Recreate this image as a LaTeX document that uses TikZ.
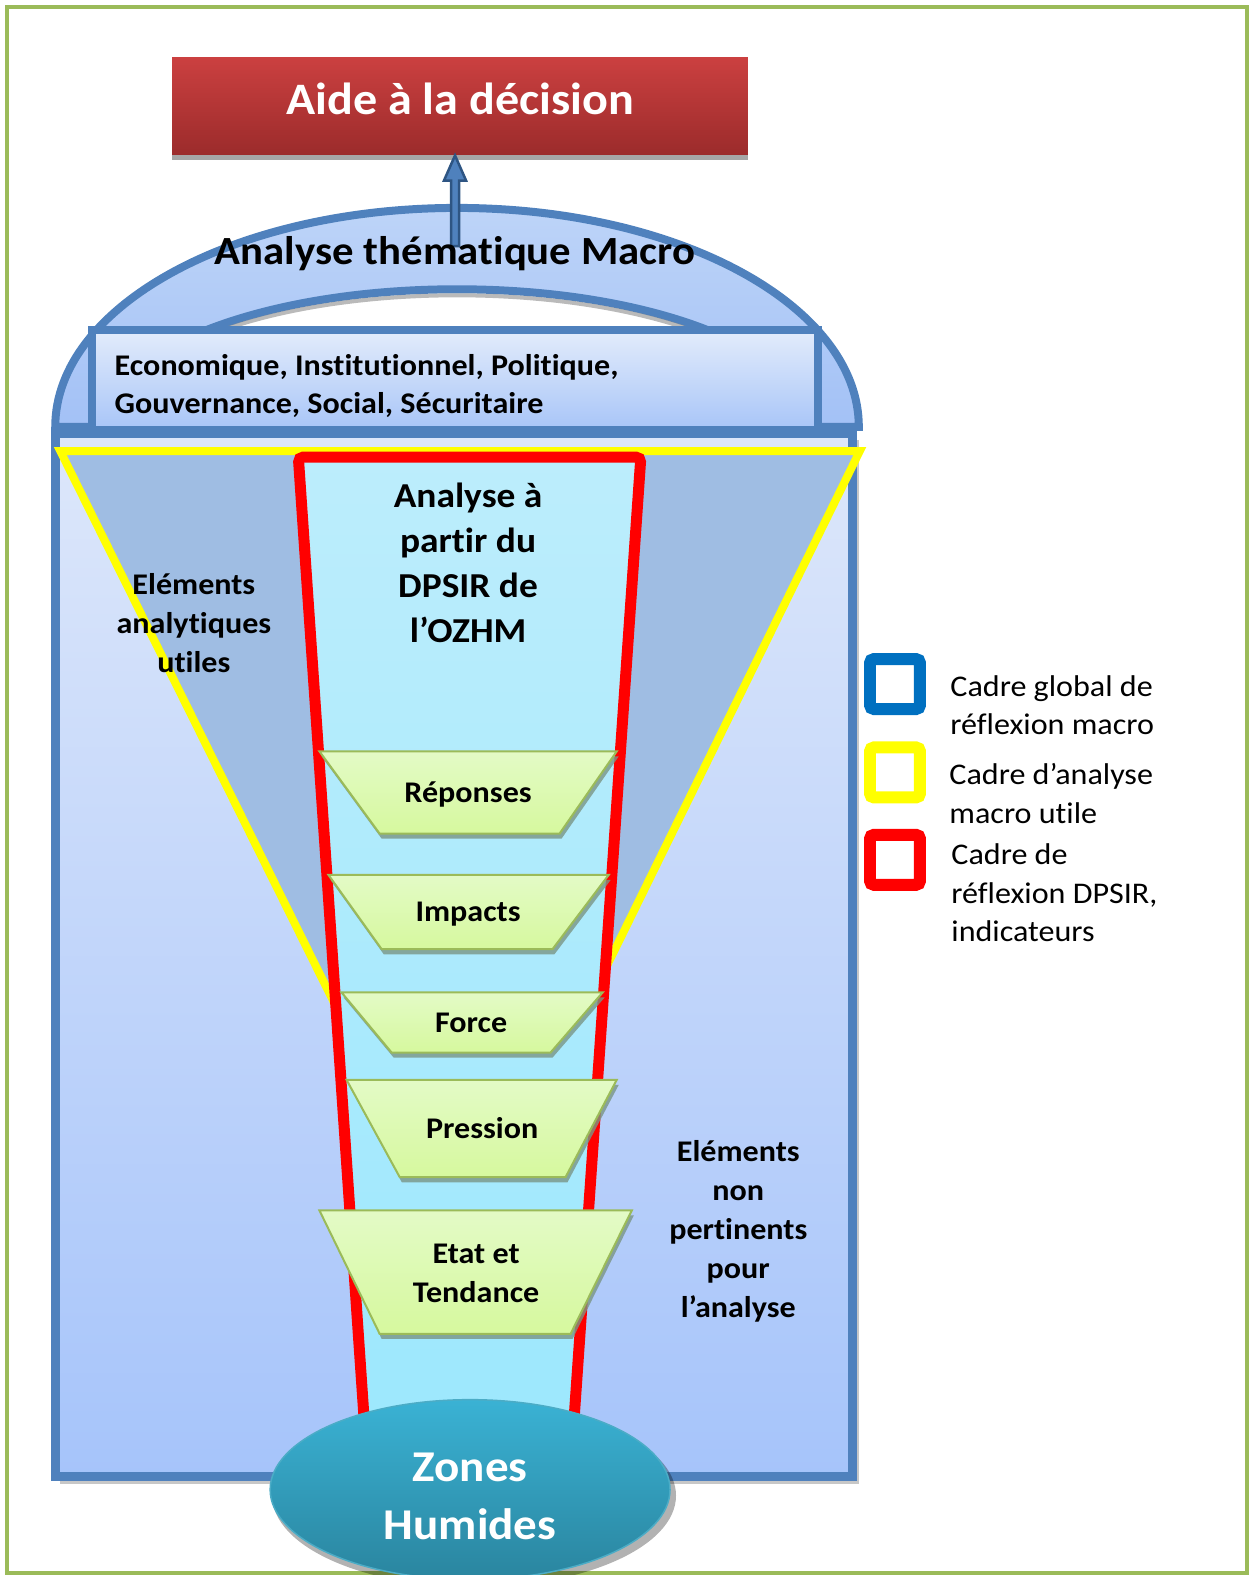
\documentclass[tikz,border=0pt]{standalone}
\usepackage{fontspec}
\setmainfont{Carlito}[FakeStretch=1.07, Ligatures=NoCommon]
\usetikzlibrary{calc,shapes.geometric}

\definecolor{framegreen}{HTML}{9BBB59}
\definecolor{accent}{HTML}{4F81BD}
\definecolor{arrowedge}{HTML}{2E5583}
\definecolor{legendblue}{HTML}{0070C0}
\definecolor{yellowc}{HTML}{FFFF00}
\definecolor{redc}{HTML}{FF0000}
\definecolor{aidetop}{HTML}{CB4040}
\definecolor{aidebot}{HTML}{9B2B2B}
\definecolor{bigtop}{HTML}{DDE7FA}
\definecolor{bigbot}{HTML}{A6C4FA}
\definecolor{archtop}{HTML}{BDD4F8}
\definecolor{archbot}{HTML}{A3C1F6}
\definecolor{econtop}{HTML}{E3ECFB}
\definecolor{econbot}{HTML}{A8C5F8}
\definecolor{steel}{HTML}{9FBDE3}
\definecolor{cyantop}{HTML}{BCEDFC}
\definecolor{cyanbot}{HTML}{9DE8FD}
\definecolor{traptop}{HTML}{E3FAC6}
\definecolor{trapbot}{HTML}{D6F99E}
\definecolor{trapline}{HTML}{9BBB59}
\definecolor{trapshade}{HTML}{7A9585}
\definecolor{zonetop}{HTML}{3AB2D4}
\definecolor{zonebot}{HTML}{2A859F}
\definecolor{zoneedge}{HTML}{4BACC6}

\newcommand\fsz[2]{\fontsize{#1bp}{#2bp}\selectfont}

\begin{document}
\begin{tikzpicture}[x=1.0048bp,y=-1.0048bp,
  lbl/.style={font=\bfseries\fsz{30}{39}, align=center, inner sep=0, outer sep=0},
  keytext/.style={font=\fsz{30}{38.5}, align=left, anchor=west, inner sep=0},
  keybox/.style={line width=12bp, rounded corners=4bp, minimum size=50bp, inner sep=0, fill=white},
  trap/.style={draw=trapline, line width=2bp, top color=traptop, bottom color=trapbot},
  trapsh/.style={fill=trapshade, opacity=0.8}]
\useasboundingbox (0,0) rectangle (1244,1568);

% outer frame
\draw[framegreen, line width=4bp] (7,7) rectangle (1241,1566);

% decision box
\node[rectangle, minimum width=576bp, minimum height=98bp, inner sep=0, outer sep=0,
      top color=aidetop, bottom color=aidebot] (aide) at (458,106) {};
\fill[black!35] (aide.south west) rectangle ($(aide.south east)+(0,5)$);
\node[anchor=base, text=white, font=\bfseries\fsz{45}{52}, inner sep=0] (aidetext) at (458,114) {Aide à la décision};

% main frame of the global analysis
\fill[black, opacity=0.22] (60,438) rectangle (855,1477);
\path[draw=accent, line width=9bp, top color=bigtop, bottom color=bigbot] (55,432) rectangle (849,1470);

% macro arch
\path[draw=accent, line width=8bp, top color=archtop, bottom color=archbot]
  (55,425) arc[start angle=180, end angle=360, x radius=400, y radius=218]
  -- (806,425) arc[start angle=360, end angle=180, x radius=351, y radius=137] -- cycle;
\draw[black!45, line width=4bp, opacity=0.6]
  (800,425) arc[start angle=360, end angle=180, x radius=345, y radius=131];

% thematic box
\node[draw=accent, line width=8bp, top color=econtop, bottom color=econbot,
      minimum width=727bp, minimum height=100bp, inner sep=0, outer sep=0] (econ) at (453,378) {};
\node[anchor=base west, align=left, font=\bfseries\fsz{30}{38.5}, inner sep=0] (econtext) at (114,412)
  {Economique, Institutionnel, Politique,\\Gouvernance, Social, Sécuritaire};

% arrow towards the decision box
\coordinate (foot) at (453,245);
\coordinate (tip) at (foot |- aide.south);
\path[fill=accent, draw=arrowedge, line width=2.5bp, line join=miter]
  ($(foot)+(-4,0)$) -- ($(tip)+(-4,25)$) -- ($(tip)+(-11,25)$) -- (tip)
  -- ($(tip)+(11,25)$) -- ($(tip)+(4,25)$) -- ($(foot)+(4,0)$) -- cycle;

\node[anchor=base, font=\bfseries\fsz{40}{48}, inner sep=0] (macro) at (453,263) {Analyse thématique Macro};

% useful analysis frame (yellow)
\path[draw=yellowc, line width=8bp, fill=steel] (60,449) -- (856,449) -- (460,1255) -- cycle;

% DPSIR funnel (red)
\path[draw=redc, line width=11bp, rounded corners=5bp, top color=cyantop, bottom color=cyanbot]
  (363,1420) -- (297,455) -- (638,455) -- (571,1420) -- cycle;

% DPSIR steps
\fill[trapsh, shift={(2,5)}] (318,748) -- (614,748) -- (557,830) -- (378,830) -- cycle;
\path[trap] (318,748) -- (614,748) -- (557,830) -- (378,830) -- cycle;
\fill[trapsh, shift={(2,5)}] (327,871) -- (606,871) -- (550,945) -- (380,945) -- cycle;
\path[trap] (327,871) -- (606,871) -- (550,945) -- (380,945) -- cycle;
\fill[trapsh, shift={(2,5)}] (340,988) -- (600,988) -- (548,1048) -- (390,1048) -- cycle;
\path[trap] (340,988) -- (600,988) -- (548,1048) -- (390,1048) -- cycle;
\fill[trapsh, shift={(2,5)}] (345,1075) -- (614,1075) -- (563,1172) -- (398,1172) -- cycle;
\path[trap] (345,1075) -- (614,1075) -- (563,1172) -- (398,1172) -- cycle;
\fill[trapsh, shift={(2,5)}] (318,1205) -- (629,1205) -- (568,1328) -- (378,1328) -- cycle;
\path[trap] (318,1205) -- (629,1205) -- (568,1328) -- (378,1328) -- cycle;

\node[lbl, anchor=base] (rep) at (466,799) {Réponses};
\node[lbl, anchor=base] (imp) at (466,917) {Impacts};
\node[lbl, anchor=base] (frc) at (469,1028) {Force};
\node[lbl, anchor=base] (prs) at (480,1133) {Pression};
\node[lbl] (etat) at (474,1268) {Etat et\\Tendance};

% wetlands
\fill[black, opacity=0.3] (472,1489) ellipse[x radius=201, y radius=91];
\node[ellipse, draw=zoneedge, line width=1.5bp, top color=zonetop, bottom color=zonebot,
      minimum width=400bp, minimum height=180bp, inner sep=0] (zones) at (468,1483) {};
\node[align=center, text=white, font=\bfseries\fsz{44}{58}, inner sep=0] (zonestext) at (468,1490) {Zones\\Humides};

% inner labels
\node[font=\bfseries\fsz{35}{45}, align=center, inner sep=0] (dpsir) at (466,560)
  {Analyse à\\partir du\\DPSIR de\\l’OZHM};
\node[lbl] (utiles) at (193,620) {Eléments\\analytiques\\utiles};
\node[lbl] (nonpert) at (735,1226) {Eléments\\non\\pertinents\\pour\\l’analyse};

% key
\node[keybox, draw=legendblue] (kblue) at (891,681) {};
\node[keybox, draw=yellowc] (kyellow) at (891,769) {};
\node[keybox, draw=redc] (kred) at (891,856) {};
\node[keytext] (tblue) at (946,702) {Cadre global de\\réflexion macro};
\node[keytext] (tyellow) at (945,790) {Cadre d’analyse\\macro utile};
\node[keytext] (tred) at (947,889) {Cadre de\\réflexion DPSIR,\\indicateurs};
\end{tikzpicture}
\end{document}
